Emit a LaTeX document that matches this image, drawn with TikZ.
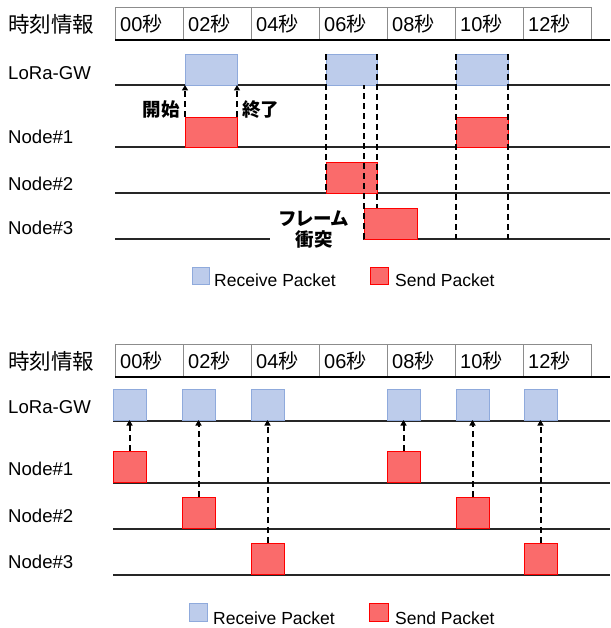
\documentclass[tikz,border=0pt]{standalone}
\usepackage{fontspec}
\setmainfont{Liberation Sans}
\newfontfamily\jp{Noto Sans CJK JP}
\newfontfamily\jpp[RawFeature=+palt]{Noto Sans CJK JP}
\usetikzlibrary{arrows.meta}

\definecolor{recvfill}{RGB}{189,204,235}
\definecolor{recvline}{RGB}{143,170,220}
\definecolor{sendfill}{RGB}{250,107,107}
\definecolor{sendline}{RGB}{255,0,0}
\definecolor{cellline}{RGB}{140,140,140}

\tikzset{
  recv/.style={draw=recvline, fill=recvfill, line width=0.9pt, inner sep=0pt, outer sep=0pt, anchor=south west},
  send/.style={draw=sendline, fill=sendfill, line width=0.9pt, inner sep=0pt, outer sep=0pt, anchor=south west},
  hcell/.style={draw=cellline, line width=0.9pt, inner sep=0pt, outer sep=0pt,
    minimum width=68pt, minimum height=33pt, anchor=north west},
  htext/.style={anchor=west, inner sep=0pt, font=\fontsize{20}{22}\selectfont},
  hline/.style={line width=1.8pt, black},
  rowline/.style={line width=1.6pt, black!85},
  lbl/.style={anchor=west, inner sep=0pt, font=\fontsize{18.6}{20}\selectfont},
  title/.style={anchor=west, inner sep=0pt, font=\jp\fontsize{21.5}{23}\selectfont},
  note/.style={inner sep=0pt, font=\jp\bfseries\fontsize{18.5}{21}\selectfont},
  legtext/.style={anchor=base west, inner sep=0pt, font=\fontsize{17.5}{19}\selectfont},
  flow/.style={line width=2pt, black, dash pattern=on 6pt off 4pt},
  flowarrow/.style={flow, -{Triangle[width=6pt,length=5.5pt]}},
}

\begin{document}
\begin{tikzpicture}[x=1pt,y=-1pt]
\useasboundingbox (0,0) rectangle (610,628);

% ================= upper timeline (collision) =================
\foreach \lab [count=\i from 0] in {00,02,04,06,08,10,12} {
  \node[hcell] (ua\i) at ({115+68*\i},7) {};
  \node[htext] (uat\i) at ([xshift=5pt]ua\i.west) {\lab{\jp 秒}};
}
\draw[hline] (ua0.south west) -- ++(495,0);

\node[title] (utitle) at (8,24) {時刻情報};
\node[lbl] (ugw) at (8,73) {LoRa-GW};
\node[lbl] (un1) at (8,137) {Node\#1};
\node[lbl] (un2) at (8,184) {Node\#2};
\node[lbl] (un3) at (8,228) {Node\#3};

% rows
\draw[rowline] (115,85) -- (610,85);
\draw[rowline] (115,147) -- (610,147);
\draw[rowline] (115,193) -- (610,193);
\draw[rowline] (115,239) -- (270,239);
\draw[rowline] (363,239) -- (610,239);

% packets
\node[recv, minimum width=52pt, minimum height=31pt] (ugA) at (185,85) {};
\node[recv, minimum width=51pt, minimum height=31pt] (ugB) at (326,85) {};
\node[recv, minimum width=52pt, minimum height=31pt] (ugC) at (456,85) {};
\node[send, minimum width=52pt, minimum height=30pt] (us1A) at (185,147) {};
\node[send, minimum width=52pt, minimum height=30pt] (us1B) at (456,147) {};
\node[send, minimum width=51pt, minimum height=31pt] (us2A) at (326,193) {};
\node[send, minimum width=53pt, minimum height=31pt] (us3A) at (364,239) {};

% start / end of the first frame
\draw[flowarrow] (us1A.north west) -- (ugA.south west);
\draw[flowarrow] (us1A.north east) -- (ugA.south east);
\node[note, anchor=east] (ustart) at (180,110) {開始};
\node[note, anchor=west] (uend) at (242,110) {終了};

% overlapping frames
\draw[flow] (ugB.north west) -- (us2A.south west);
\draw[flow] (ugB.north east) -- (ugB.north east |- us3A.north);
\draw[flow] (us3A.south west) -- (us3A.south west |- ugB.south);
\draw[flow] (ugC.north west) -- (ugC.north west |- us3A.south);
\draw[flow] (ugC.north east) -- (ugC.north east |- us3A.south);
\node[note, align=center] (uclash) at (314,230) {{\jpp フレーム}\\衝突};

% legend
\node[recv, anchor=north west, minimum width=17pt, minimum height=17pt] (ulr) at (192,267) {};
\node[legtext] (ulrt) at (214,286) {Receive Packet};
\node[send, anchor=north west, minimum width=18pt, minimum height=17pt] (uls) at (370,267) {};
\node[legtext] (ulst) at (395,286) {Send Packet};

% ================= lower timeline (scheduled) =================
\foreach \lab [count=\i from 0] in {00,02,04,06,08,10,12} {
  \node[hcell] (la\i) at ({115+68*\i},344) {};
  \node[htext] (lat\i) at ([xshift=5pt]la\i.west) {\lab{\jp 秒}};
}
\draw[hline] (la0.south west) -- ++(495,0);

\node[title] (ltitle) at (8,361) {時刻情報};
\node[lbl] (lgw) at (8,407) {LoRa-GW};
\node[lbl] (ln1) at (8,469) {Node\#1};
\node[lbl] (ln2) at (8,516) {Node\#2};
\node[lbl] (ln3) at (8,562) {Node\#3};

\draw[rowline] (113,421) -- (610,421);
\draw[rowline] (113,483) -- (610,483);
\draw[rowline] (113,529) -- (610,529);
\draw[rowline] (113,575) -- (610,575);

\foreach \x [count=\k] in {113,182,251,387,456,524} {
  \node[recv, minimum width=33pt, minimum height=31pt] (lg\k) at (\x,420) {};
}
\node[send, minimum width=33pt, minimum height=31pt] (ls1) at (113,482) {};
\node[send, minimum width=33pt, minimum height=31pt] (ls2) at (182,528) {};
\node[send, minimum width=33pt, minimum height=31pt] (ls3) at (251,574) {};
\node[send, minimum width=33pt, minimum height=31pt] (ls4) at (387,482) {};
\node[send, minimum width=33pt, minimum height=31pt] (ls5) at (456,528) {};
\node[send, minimum width=33pt, minimum height=31pt] (ls6) at (524,574) {};

\foreach \k in {1,...,6} {
  \draw[flowarrow] (ls\k.north) -- (ls\k.north |- lg\k.south);
}

% legend
\node[recv, anchor=north west, minimum width=18pt, minimum height=18pt] (llr) at (189,603) {};
\node[legtext] (llrt) at (213,624) {Receive Packet};
\node[send, anchor=north west, minimum width=19pt, minimum height=18pt] (lls) at (369,603) {};
\node[legtext] (llst) at (395,624) {Send Packet};
\end{tikzpicture}
\end{document}
